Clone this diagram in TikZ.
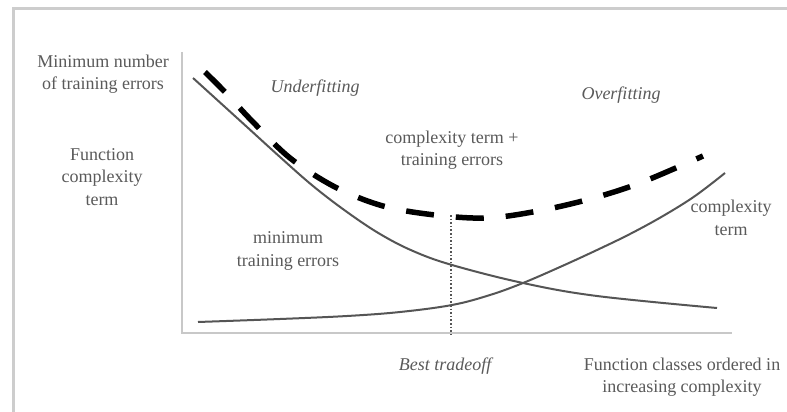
\documentclass[tikz,border=0pt]{standalone}
\usepackage{fontspec}
\setmainfont{Liberation Serif}
\begin{document}
\begin{tikzpicture}[x=1pt,y=-1pt,
  lbl/.style={text=txtgray,font=\fontsize{18}{22.5}\selectfont,align=center,inner sep=0pt},
  itlbl/.style={lbl,font=\fontsize{18}{22.5}\selectfont\itshape},
  frameline/.style={draw=framegray,line width=3pt},
  axisline/.style={draw=axisgray,line width=2.6pt},
  curve/.style={draw=curvegray,line width=2pt},
  sumcurve/.style={draw=black,line width=5.5pt,dash pattern=on 28pt off 22pt},
]
\definecolor{framegray}{RGB}{205,205,205}
\definecolor{axisgray}{RGB}{200,200,200}
\definecolor{curvegray}{RGB}{85,85,85}
\definecolor{txtgray}{RGB}{90,90,90}
\useasboundingbox (0,0) rectangle (787,412);
\fill[white] (0,0) rectangle (787,412);

% outer frame (top and left edges)
\coordinate (fTL) at (13,9);
\coordinate (fTR) at (787,9);
\coordinate (fBL) at (13,412);
\draw[frameline] (fBL) -- (fTL) -- (fTR);

% axes
\coordinate (yTop) at (182,52);
\coordinate (orig) at (182,333);
\coordinate (xEnd) at (732,333);
\draw[axisline] (yTop) -- (orig) -- (xEnd);

% training error curve
\draw[curve] plot[smooth,tension=0.6] coordinates
  {(193,78) (247,127) (280,157) (313,186) (347,212) (380,234) (413,251) (452,265) (523,283) (597,296) (717,308)};

% complexity term curve
\draw[curve] plot[smooth,tension=0.6] coordinates
  {(198,322) (280,319) (347,316) (400,312) (452,305) (490,295) (523,283) (560,267) (597,250) (630,234) (663,216) (695,196) (725,173)};

% sum of both terms
\draw[sumcurve] plot[smooth,tension=0.55] coordinates
  {(205,72) (225,92) (252,121) (290,158) (335,187) (383,206) (435,215) (487,218) (538,211) (590,199) (640,183) (703,156)};

% best tradeoff marker
\coordinate (bestTop) at (451,215);
\coordinate (bestBot) at (451,335);
\draw[curvegray,line width=1.6pt,dotted] (bestTop) -- (bestBot);

% labels
\node[lbl] (ylab1) at (103,74) {Minimum number\\of training errors};
\node[lbl] (ylab2) at (102,177) {Function\\complexity\\term};
\node[itlbl] (under) at (315,88) {Underfitting};
\node[itlbl] (over) at (621,95) {Overfitting};
\node[lbl] (sumlab) at (452,150) {complexity term +\\training errors};
\node[lbl] (ctlab) at (731,218) {complexity\\term};
\node[lbl] (trlab) at (288,251) {minimum\\training errors};
\node[itlbl] (best) at (445,366) {Best tradeoff};
\node[lbl] (xlab) at (682,377) {Function classes ordered in\\increasing complexity};
\end{tikzpicture}
\end{document}
